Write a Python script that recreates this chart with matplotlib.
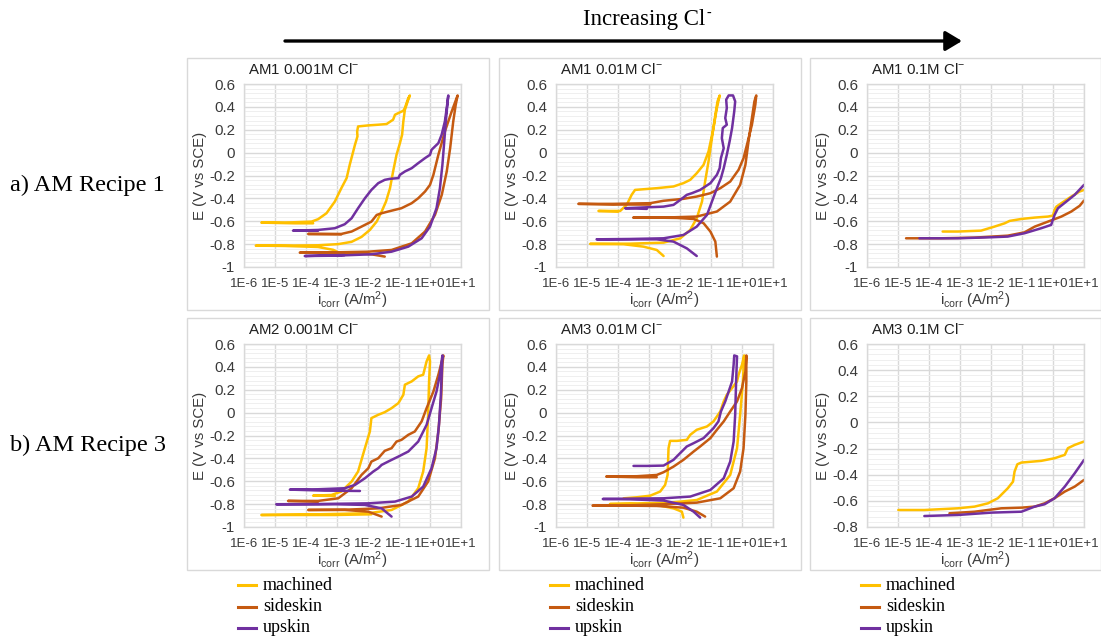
import numpy as np
import matplotlib
matplotlib.use("Agg")
import matplotlib.pyplot as plt
from matplotlib.patches import Rectangle, FancyArrowPatch
from matplotlib.lines import Line2D
from matplotlib.ticker import FixedLocator, FixedFormatter, MultipleLocator, NullFormatter

plt.rcParams["font.family"] = ["Liberation Sans", "DejaVu Sans"]
plt.rcParams["mathtext.fontset"] = "custom"
plt.rcParams["mathtext.rm"] = "Liberation Sans"
plt.rcParams["mathtext.it"] = "Liberation Sans:italic"
plt.rcParams["mathtext.bf"] = "Liberation Sans:bold"
plt.rcParams["axes.unicode_minus"] = False

# ---------------------------------------------------------------------------
# Polarisation curves: log10 of current density (A/m^2) and potential (V vs SCE)
# ---------------------------------------------------------------------------
SURFACES = ["machined", "sideskin", "upskin"]
COLORS = {"machined": "#FFC000", "sideskin": "#C55A11", "upskin": "#7030A0"}

TITLES = ["AM1 0.001M Cl$^{-}$", "AM1 0.01M Cl$^{-}$", "AM1 0.1M Cl$^{-}$",
          "AM2 0.001M Cl$^{-}$", "AM3 0.01M Cl$^{-}$", "AM3 0.1M Cl$^{-}$"]
Y_MIN = [-1.0, -1.0, -1.0, -1.0, -1.0, -0.8]
Y_MAX = 0.6
X_EXP = [-6, -5, -4, -3, -2, -1, 0, 1]
X_LABELS = ["1E-6", "1E-5", "1E-4", "1E-3", "1E-2", "1E-1", "1E+0", "1E+1"]
ROW_LABELS = ["a) AM Recipe 1", "b) AM Recipe 3"]

# AM1, 0.001 M Cl-
am1_001_machined_logi = [-2.80, -3.12, -3.61, -4.69, -5.62, -4.69, -3.61, -2.96, -2.53, -2.21, -1.94, -1.72,
                         -1.56, -1.42, -1.29, -1.19, -1.08, -0.97, -0.90, -0.86, -0.81, -0.72, -0.65,
                         -0.70, -0.81, -0.86, -1.02, -1.13, -1.19, -1.40, -1.67, -1.99, -2.32, -2.35, -2.34,
                         -2.42, -2.59, -2.69, -2.86, -3.07, -3.34, -3.61, -3.82, -4.69, -5.44, -4.36, -3.77]
am1_001_machined_E = [-0.895, -0.85, -0.825, -0.816, -0.813, -0.813, -0.81, -0.80, -0.78, -0.737, -0.676, -0.603,
                      -0.515, -0.428, -0.311, -0.165, -0.019, 0.083, 0.156, 0.273, 0.375, 0.448, 0.50,
                      0.477, 0.39, 0.366, 0.346, 0.331, 0.288, 0.25, 0.244, 0.238, 0.229, 0.185, 0.142,
                      0.069, -0.107, -0.223, -0.311, -0.428, -0.53, -0.582, -0.603, -0.612, -0.612, -0.618, -0.618]
am1_001_sideskin_logi = [-1.46, -1.89, -2.53, -3.39, -4.20, -3.07, -1.99, -1.24, -0.59, -0.16, 0.16, 0.38, 0.54,
                         0.65, 0.75, 0.83, 0.89,
                         0.70, 0.48, 0.27, 0.11, 0.0, -0.16, -0.38, -0.59, -0.92, -1.35, -1.56, -1.72, -1.89,
                         -2.21, -2.53, -2.86, -3.61, -3.93, -2.86]
am1_001_sideskin_E = [-0.909, -0.889, -0.877, -0.874, -0.874, -0.872, -0.866, -0.851, -0.793, -0.69, -0.545,
                      -0.369, -0.165, 0.039, 0.273, 0.419, 0.50,
                      0.36, 0.185, -0.019, -0.194, -0.282, -0.34, -0.399, -0.442, -0.486, -0.515, -0.53, -0.545,
                      -0.603, -0.647, -0.69, -0.711, -0.711, -0.711, -0.714]
am1_001_upskin_logi = [-2.75, -4.04, -3.07, -1.89, -1.24, -0.70, -0.27, 0.0, 0.21, 0.32, 0.40, 0.46, 0.51, 0.56,
                       0.59,
                       0.54, 0.48, 0.375, 0.27, 0.05, 0.0, -0.16, -0.38, -0.59, -0.81, -0.97, -1.02, -1.29, -1.46,
                       -1.67, -1.89, -2.10, -2.32, -2.53, -2.75, -3.07, -3.61, -4.42, -3.61]
am1_001_upskin_E = [-0.895, -0.904, -0.901, -0.889, -0.866, -0.822, -0.749, -0.647, -0.486, -0.311, -0.107, 0.098,
                    0.273, 0.419, 0.50,
                    0.39, 0.273, 0.156, 0.083, 0.025, -0.019, -0.048, -0.092, -0.136, -0.165, -0.194, -0.223,
                    -0.229, -0.238, -0.267, -0.326, -0.399, -0.486, -0.574, -0.626, -0.661, -0.676, -0.682, -0.682]

# AM1, 0.01 M Cl-
am1_01_machined_logi = [-2.53, -2.75, -3.18, -3.82, -4.90, -3.61, -2.53, -1.99, -1.67, -1.46, -1.29, -1.19, -1.08,
                        -0.97, -0.86, -0.79, -0.72,
                        -0.81, -0.92, -1.08, -1.24, -1.46, -1.67, -1.89, -2.21, -2.75, -3.45, -3.56, -3.72, -3.93,
                        -4.63, -3.99]
am1_01_machined_E = [-0.904, -0.851, -0.822, -0.801, -0.798, -0.796, -0.787, -0.749, -0.676, -0.574, -0.428, -0.253,
                     -0.077, 0.127, 0.331, 0.448, 0.50,
                     0.39, 0.215, 0.010, -0.107, -0.18, -0.238, -0.267, -0.296, -0.311, -0.326, -0.369, -0.457,
                     -0.51, -0.51, -0.515]
am1_01_sideskin_logi = [-0.81, -0.86, -1.02, -1.24, -1.56, -2.10, -2.86, -3.50, -2.53, -1.46, -0.81, -0.38, -0.06,
                        0.11, 0.21, 0.32, 0.40, 0.46,
                        0.43, 0.32, 0.16, 0.05, -0.11, -0.38, -0.70, -1.02, -1.46, -1.89, -2.53, -2.96, -4.15,
                        -5.28, -4.15, -2.96]
am1_01_sideskin_E = [-0.909, -0.778, -0.69, -0.617, -0.58, -0.571, -0.568, -0.568, -0.568, -0.559, -0.515, -0.428,
                     -0.282, -0.107, 0.098, 0.302, 0.448, 0.50,
                     0.419, 0.244, 0.069, -0.048, -0.150, -0.253, -0.311, -0.355, -0.384, -0.404, -0.421, -0.442,
                     -0.448, -0.448, -0.454, -0.454]
am1_01_upskin_logi = [-1.46, -1.78, -2.21, -2.75, -3.61, -4.69, -3.61, -2.53, -1.89, -1.46, -1.13, -0.97, -0.81,
                      -0.68, -0.59, -0.49, -0.40, -0.32, -0.25, -0.22, -0.29, -0.43,
                      -0.51, -0.49, -0.54, -0.49, -0.62, -0.65, -0.59, -0.68, -0.72, -0.81, -1.02, -1.35, -1.62,
                      -1.78, -1.99, -2.21, -2.53, -3.07, -3.77, -3.07]
am1_01_upskin_E = [-0.904, -0.837, -0.778, -0.758, -0.758, -0.758, -0.755, -0.749, -0.72, -0.647, -0.545, -0.428,
                   -0.311, -0.223, -0.136, -0.019, 0.098, 0.215, 0.361, 0.448, 0.50, 0.50,
                   0.463, 0.39, 0.302, 0.244, 0.215, 0.127, 0.039, -0.048, -0.136, -0.194, -0.267, -0.326, -0.355,
                   -0.369, -0.413, -0.457, -0.472, -0.478, -0.486, -0.492]

# AM1, 0.1 M Cl-
am1_1_machined_logi = [-3.56, -3.07, -2.32, -1.89, -1.56, -1.40, -1.02, -0.59, -0.16, 0.0, 0.05, 0.11, 0.27, 0.59,
                       0.86, 1.0]
am1_1_machined_E = [-0.69, -0.69, -0.682, -0.647, -0.618, -0.597, -0.58, -0.568, -0.559, -0.55, -0.50, -0.472,
                    -0.442, -0.384, -0.34, -0.326]
am1_1_sideskin_logi = [-4.74, -3.61, -2.53, -1.46, -0.92, -0.59, -0.16, 0.27, 0.59, 0.86, 1.0]
am1_1_sideskin_E = [-0.749, -0.749, -0.743, -0.726, -0.697, -0.647, -0.603, -0.559, -0.515, -0.465, -0.419]
am1_1_upskin_logi = [-4.31, -3.07, -1.99, -1.46, -0.92, -0.38, -0.06, 0.05, 0.16, 0.43, 0.70, 1.0]
am1_1_upskin_E = [-0.749, -0.749, -0.740, -0.734, -0.705, -0.661, -0.632, -0.545, -0.486, -0.428, -0.369, -0.282]

# AM2, 0.001 M Cl-
am2_001_machined_logi = [-1.89, -3.07, -4.15, -5.44, -3.61, -1.99, -1.24, -0.70, -0.38, -0.22, -0.11, -0.06, -0.03,
                         0.0, -0.03,
                         -0.11, -0.22, -0.38, -0.59, -0.81, -0.86, -1.02, -1.24, -1.46, -1.67, -1.89, -1.94, -2.10,
                         -2.32, -2.53, -2.86, -3.18, -3.77, -3.07]
am2_001_machined_E = [-0.889, -0.895, -0.895, -0.895, -0.889, -0.880, -0.851, -0.778, -0.661, -0.515, -0.311,
                      -0.019, 0.273, 0.448, 0.50,
                      0.448, 0.331, 0.317, 0.273, 0.244, 0.156, 0.083, 0.039, 0.004, -0.019, -0.048, -0.165,
                      -0.311, -0.515, -0.603, -0.69, -0.72, -0.726, -0.729]
am2_001_sideskin_logi = [-1.56, -1.99, -2.75, -3.93, -2.75, -1.67, -0.92, -0.38, -0.06, 0.16, 0.27, 0.36, 0.40,
                         0.43,
                         0.27, 0.11, -0.11, -0.27, -0.49, -0.70, -0.92, -1.08, -1.24, -1.46, -1.67, -1.89, -1.99,
                         -2.21, -2.53, -2.96, -3.61, -4.58, -3.61]
am2_001_sideskin_E = [-0.909, -0.866, -0.851, -0.851, -0.849, -0.837, -0.807, -0.734, -0.603, -0.399, -0.165,
                      0.127, 0.419, 0.50,
                      0.331, 0.185, 0.039, -0.077, -0.165, -0.194, -0.238, -0.253, -0.311, -0.334, -0.399, -0.428,
                      -0.486, -0.545, -0.661, -0.749, -0.772, -0.772, -0.778]
am2_001_upskin_logi = [-1.24, -1.56, -2.10, -3.07, -4.15, -4.96, -3.61, -1.99, -1.13, -0.59, -0.22, 0.05, 0.21,
                       0.29, 0.35, 0.38, 0.40,
                       0.32, 0.21, 0.05, -0.11, -0.38, -0.70, -1.02, -1.35, -1.56, -1.67, -1.83, -2.10, -2.42,
                       -2.75, -3.61, -4.52, -3.39, -2.26]
am2_001_upskin_E = [-0.909, -0.837, -0.807, -0.801, -0.801, -0.801, -0.799, -0.793, -0.778, -0.734, -0.647, -0.486,
                    -0.311, -0.107, 0.156, 0.361, 0.50,
                    0.331, 0.185, 0.039, -0.107, -0.253, -0.340, -0.384, -0.428, -0.457, -0.486, -0.515, -0.574,
                    -0.632, -0.661, -0.670, -0.673, -0.682, -0.685]

# AM3, 0.01 M Cl-
am3_01_machined_logi = [-1.89, -1.94, -2.21, -2.75, -3.61, -4.26, -3.29, -2.32, -1.46, -0.81, -0.38, -0.16, -0.06,
                        0.03, 0.07,
                        0.0, -0.11, -0.16, -0.32, -0.49, -0.59, -0.70, -0.92, -1.13, -1.46, -1.67, -1.78, -2.10,
                        -2.32, -2.37, -2.40, -2.48, -2.64, -2.96, -3.39, -3.82]
am3_01_machined_E = [-0.918, -0.866, -0.837, -0.807, -0.799, -0.799, -0.793, -0.787, -0.764, -0.69, -0.545, -0.311,
                     -0.019, 0.273, 0.50,
                     0.419, 0.331, 0.273, 0.215, 0.156, 0.098, 0.010, -0.077, -0.121, -0.150, -0.194, -0.238,
                     -0.247, -0.247, -0.311, -0.545, -0.632, -0.69, -0.726, -0.740, -0.749]
am3_01_sideskin_logi = [-1.19, -1.46, -1.89, -2.75, -3.82, -4.82, -3.61, -2.53, -1.46, -0.70, -0.27, -0.06, 0.05,
                        0.11, 0.14, 0.14,
                        0.11, 0.0, -0.16, -0.38, -0.59, -0.81, -1.02, -1.35, -1.56, -1.89, -2.21, -2.53, -2.75,
                        -3.39, -4.38, -3.39, -2.75]
am3_01_sideskin_E = [-0.909, -0.866, -0.831, -0.816, -0.813, -0.813, -0.810, -0.801, -0.787, -0.749, -0.661, -0.515,
                     -0.311, -0.019, 0.273, 0.50,
                     0.36, 0.215, 0.098, 0.010, -0.077, -0.150, -0.223, -0.296, -0.340, -0.413, -0.472, -0.521,
                     -0.545, -0.556, -0.559, -0.565, -0.565]
am3_01_upskin_logi = [-1.35, -1.56, -1.89, -2.53, -3.61, -4.49, -3.61, -2.53, -1.67, -1.02, -0.59, -0.38, -0.27,
                      -0.22, -0.19, -0.16, -0.25,
                      -0.27, -0.32, -0.43, -0.54, -0.68, -0.76, -0.92, -1.24, -1.56, -1.78, -2.05, -2.21, -2.53,
                      -3.07, -3.50]
am3_01_upskin_E = [-0.918, -0.866, -0.807, -0.769, -0.758, -0.755, -0.752, -0.749, -0.734, -0.676, -0.574, -0.428,
                   -0.253, -0.019, 0.273, 0.492, 0.50,
                   0.419, 0.273, 0.185, 0.098, 0.010, -0.077, -0.136, -0.223, -0.267, -0.296, -0.369, -0.413,
                   -0.463, -0.466, -0.466]

# AM3, 0.1 M Cl-
am3_1_machined_logi = [-4.99, -4.15, -3.07, -2.53, -2.10, -1.78, -1.46, -1.29, -1.24, -1.15, -1.02, -0.38, 0.05,
                       0.38, 0.48, 0.70, 1.0]
am3_1_machined_E = [-0.670, -0.670, -0.657, -0.644, -0.619, -0.580, -0.504, -0.453, -0.376, -0.320, -0.307,
                    -0.294, -0.274, -0.248, -0.197, -0.172, -0.146]
am3_1_sideskin_logi = [-3.34, -2.53, -1.67, -1.02, -0.59, -0.27, 0.05, 0.38, 0.70, 1.0]
am3_1_sideskin_E = [-0.695, -0.683, -0.657, -0.652, -0.644, -0.619, -0.580, -0.529, -0.491, -0.440]
am3_1_upskin_logi = [-4.15, -3.07, -1.99, -1.02, -0.59, -0.27, 0.05, 0.38, 0.70, 1.0]
am3_1_upskin_E = [-0.716, -0.708, -0.690, -0.683, -0.644, -0.626, -0.580, -0.491, -0.389, -0.287]

PANEL_CURVES = [
    [(am1_001_machined_logi, am1_001_machined_E), (am1_001_sideskin_logi, am1_001_sideskin_E),
     (am1_001_upskin_logi, am1_001_upskin_E)],
    [(am1_01_machined_logi, am1_01_machined_E), (am1_01_sideskin_logi, am1_01_sideskin_E),
     (am1_01_upskin_logi, am1_01_upskin_E)],
    [(am1_1_machined_logi, am1_1_machined_E), (am1_1_sideskin_logi, am1_1_sideskin_E),
     (am1_1_upskin_logi, am1_1_upskin_E)],
    [(am2_001_machined_logi, am2_001_machined_E), (am2_001_sideskin_logi, am2_001_sideskin_E),
     (am2_001_upskin_logi, am2_001_upskin_E)],
    [(am3_01_machined_logi, am3_01_machined_E), (am3_01_sideskin_logi, am3_01_sideskin_E),
     (am3_01_upskin_logi, am3_01_upskin_E)],
    [(am3_1_machined_logi, am3_1_machined_E), (am3_1_sideskin_logi, am3_1_sideskin_E),
     (am3_1_upskin_logi, am3_1_upskin_E)],
]

# ---------------------------------------------------------------------------
# Figure layout (pixel units)
# ---------------------------------------------------------------------------
W, H = 1101, 639
fig = plt.figure(figsize=(W / 100, H / 100), dpi=100)
fig.patch.set_facecolor("white")


def fx(x):
    return x / W


def fy(y):
    return 1 - y / H


BOX_X = [187, 499, 810]
BOX_W = [302, 302, 291]
BOX_Y = [58, 318]
BOX_H = 252
PLOT_X = [244, 556, 867]
PLOT_W = 217
PLOT_Y = [84, 344]
PLOT_H = 183

TEXT_DARK = "#1f1f1f"
TICK_COLOR = "#3a3a3a"
GRID_MAJOR = "#d9d9d9"
GRID_MINOR = "#efefef"

for idx in range(6):
    r, c = divmod(idx, 3)
    bx, by = BOX_X[c], BOX_Y[r]
    fig.patches.append(Rectangle((fx(bx), fy(by + BOX_H)), BOX_W[c] / W, BOX_H / H,
                                 transform=fig.transFigure, fill=False,
                                 ec=GRID_MAJOR, lw=1.0, zorder=0))

    px, py = PLOT_X[c], PLOT_Y[r]
    ax = fig.add_axes([fx(px), fy(py + PLOT_H), PLOT_W / W, PLOT_H / H])
    ax.set_xscale("log")
    ax.set_xlim(10.0 ** X_EXP[0], 10.0 ** X_EXP[-1])
    ax.set_ylim(Y_MIN[idx], Y_MAX)

    ax.xaxis.set_major_locator(FixedLocator([10.0 ** e for e in X_EXP]))
    ax.xaxis.set_major_formatter(FixedFormatter(X_LABELS))
    ax.xaxis.set_minor_locator(FixedLocator([]))
    ax.xaxis.set_minor_formatter(NullFormatter())

    yt = np.round(np.arange(Y_MIN[idx], Y_MAX + 0.001, 0.2), 1) + 0.0
    ax.yaxis.set_major_locator(FixedLocator(yt))
    ax.yaxis.set_major_formatter(FixedFormatter([f"{v:g}" for v in yt]))
    ax.yaxis.set_minor_locator(MultipleLocator(0.04))

    ax.grid(which="major", color=GRID_MAJOR, lw=1.0)
    ax.grid(which="minor", axis="y", color=GRID_MINOR, lw=0.7)
    ax.set_axisbelow(True)
    for s in ax.spines.values():
        s.set_color(GRID_MAJOR)
        s.set_linewidth(1.0)
    ax.tick_params(which="both", length=0, labelcolor=TICK_COLOR)
    ax.tick_params(axis="x", labelsize=9.5, pad=8)
    ax.tick_params(axis="y", labelsize=10.8, pad=6.5)

    for surf, (logi, E) in zip(SURFACES, PANEL_CURVES[idx]):
        ax.plot(10.0 ** np.asarray(logi), E, color=COLORS[surf], lw=1.8,
                solid_joinstyle="round", solid_capstyle="round")

    fig.text(fx(bx + 61), fy(by + 12), TITLES[idx], fontsize=10.8, color=TEXT_DARK,
             ha="left", va="center")
    fig.text(fx(bx + 13), fy(py + PLOT_H / 2), "E (V vs SCE)", fontsize=10.8,
             color=TICK_COLOR, rotation=90, ha="center", va="center")
    fig.text(fx(px + PLOT_W / 2), fy(py + PLOT_H + 33), r"i$_{\mathrm{corr}}$ (A/m$^{2}$)",
             fontsize=10.8, color=TICK_COLOR, ha="center", va="center")

# Legends under each column
for c in range(3):
    x0 = BOX_X[c] + 51
    for k, surf in enumerate(SURFACES):
        yy = 585 + k * 21.5
        fig.lines.append(Line2D([fx(x0), fx(x0 + 18)], [fy(yy), fy(yy)], transform=fig.transFigure,
                                color=COLORS[surf], lw=2.2))
        fig.text(fx(x0 + 25), fy(yy), surf, fontsize=13, family="Liberation Serif",
                 ha="left", va="center", color="black")

# Row labels
for r, lab in enumerate(ROW_LABELS):
    fig.text(fx(10), fy(BOX_Y[r] + 127), lab, fontsize=17.5, family="Liberation Serif",
             ha="left", va="center", color="black")

# Header with arrow
head = fig.text(fx(583), fy(20), "Increasing Cl", fontsize=16.5, family="Liberation Serif",
                ha="left", va="center", color="black")
fig.canvas.draw()
hb = head.get_window_extent()
fig.text((hb.x1 + 1.5) / W, fy(13), "-", fontsize=10, family="Liberation Serif",
         ha="left", va="center", color="black")
fig.patches.append(FancyArrowPatch((fx(285), fy(41)), (fx(962), fy(41)), transform=fig.transFigure,
                                   arrowstyle="-|>,head_length=0.5,head_width=0.3", mutation_scale=20,
                                   lw=2.4, color="black", shrinkA=0, shrinkB=0))

fig.savefig("out.png", dpi=100, facecolor="white")
